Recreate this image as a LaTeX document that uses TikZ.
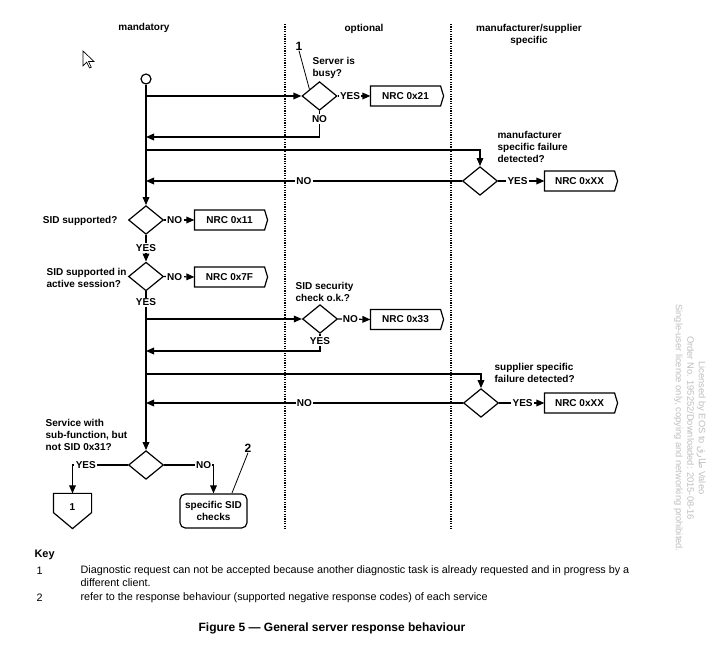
\documentclass[tikz,border=0pt]{standalone}
\usepackage{fontspec}
\setmainfont{Liberation Sans}
\newfontfamily\arabicfont[Script=Arabic]{DejaVu Sans}
\TeXXeTstate=1
\usetikzlibrary{shapes.geometric,arrows.meta}
\definecolor{wmgray}{RGB}{190,190,190}
\begin{document}
\begin{tikzpicture}[x=0.75pt,y=-0.75pt,line width=0.9pt,
  txt/.style={font=\bfseries\fontsize{7.5}{9}\selectfont, inner sep=0pt, align=left},
  yn/.style={font=\bfseries\fontsize{7.5}{9}\selectfont, fill=white, inner sep=1pt},
  dia/.style={shape=diamond, draw, minimum width=26.25pt, minimum height=21.5pt, inner sep=0pt},
  nrc/.style={font=\bfseries\fontsize{7.5}{9}\selectfont, minimum width=51.75pt, minimum height=14pt, inner sep=0pt},
  arr/.style={-{Triangle[length=6pt,width=5pt]}},
  sepline/.style={line width=0.8pt, dash pattern=on 0.9pt off 0.9pt},
  leader/.style={line width=0.6pt},
  keytxt/.style={font=\fontsize{8.1}{9.5}\selectfont, inner sep=0pt, anchor=west}
]
\useasboundingbox (0,0) rectangle (715,666);

% column separators and headings
\draw[sepline] (285,24) -- (285,530);
\draw[sepline] (451,24) -- (451,530);
\node[txt] (hmand) at (144,28) {mandatory};
\node[txt] (hopt) at (364,29) {optional};
\node[txt, align=center] (hman) at (529,35) {manufacturer/supplier\\specific};

% cursor
\draw[line width=0.5pt, fill=white] (83,51) -- (83,66) -- (86.7,62.2) -- (89.5,68) -- (91.3,67.2) -- (88.5,61.5) -- (94,61.5) -- cycle;

% start
\node[circle, draw, minimum size=7.5pt, inner sep=0pt] (start) at (146,79) {};

% diamonds
\node[dia] (busy) at (319.5,96) {};
\node[dia] (mfr) at (480,181) {};
\node[dia] (sid) at (146,220) {};
\node[dia] (sess) at (146,276.5) {};
\node[dia] (sec) at (320,319) {};
\node[dia] (sup) at (481,403) {};
\node[dia] (svc) at (146,465) {};

% NRC boxes
\node[nrc] (b21) at (405.5,96) {NRC 0x21};
\node[nrc] (bx1) at (579.5,181) {NRC 0xXX};
\node[nrc] (b11) at (229.5,220) {NRC 0x11};
\node[nrc] (b7f) at (229.5,277) {NRC 0x7F};
\node[nrc] (b33) at (405.5,319.5) {NRC 0x33};
\node[nrc] (bx2) at (579.5,403) {NRC 0xXX};
\foreach \b in {b21,bx1,b11,b7f,b33,bx2}{
  \draw (\b.north west) -- (\b.north east) -- ([xshift=2.25pt]\b.east) -- (\b.south east) -- (\b.south west) -- cycle;
}

% terminal shapes
\node[font=\bfseries\fontsize{7.5}{9}\selectfont, minimum width=27.75pt, minimum height=19.5pt, inner sep=0pt] (off1) at (72.5,507) {1};
\draw (off1.north west) -- (off1.north east) -- ([yshift=6pt]off1.south east) -- ([yshift=-6pt]off1.south) -- ([yshift=6pt]off1.south west) -- cycle;
\node[draw, rounded corners=4pt, align=center, font=\bfseries\fontsize{7.5}{9}\selectfont, minimum width=50.25pt, minimum height=25.5pt, inner sep=0pt] (chk) at (213.5,511) {specific SID\\checks};

% condition texts
\node[txt, anchor=west] (tbusy) at (312,67.5) {Server is\\busy?};
\node[txt, anchor=west] (tmfr) at (497,146.5) {manufacturer\\specific failure\\detected?};
\node[txt, anchor=east] (tsid) at (118,221) {SID supported?};
\node[txt, anchor=west] (tsess) at (46,277.5) {SID supported in\\active session?};
\node[txt, anchor=west] (tsec) at (295,291.5) {SID security\\check o.k.?};
\node[txt, anchor=west] (tsup) at (494,372.5) {supplier specific\\failure detected?};
\node[txt, anchor=west] (tsvc) at (45,435) {Service with\\sub-function, but\\not SID 0x31?};

% key callouts
\node[font=\bfseries\fontsize{9}{10}\selectfont, inner sep=0pt] (n1) at (299,46) {1};
\coordinate (c1) at (309.5,89.5);
\draw[leader] (n1.south) -- (c1);
\node[font=\bfseries\fontsize{9}{10}\selectfont, inner sep=0pt] (n2) at (248,448) {2};
\coordinate (c2) at (232,493);
\draw[leader] (n2.south) -- (c2);

% points on main line
\coordinate (m1) at (146,96);
\coordinate (m2) at (146,137);
\coordinate (m3) at (146,150);
\coordinate (m4) at (146,181);
\coordinate (m5) at (146,319);
\coordinate (m6) at (146,351);
\coordinate (m7) at (146,374);
\coordinate (m8) at (146,403);

% main flow
\draw[arr] (start) -- (sid.north);
\draw[arr] (m1) -- (busy.west);
\draw[arr] (busy.east) -- node[yn, pos=0.38]{YES} (b21.west);
\draw[arr] (busy.south) |- node[yn, pos=0.16]{NO} (m2);
\draw[arr] (m3) -| (mfr.north);
\draw[arr] (mfr.west) -- node[yn, pos=0.5]{NO} (m4);
\draw[arr] (mfr.east) -- node[yn, pos=0.42]{YES} (bx1.west);
\draw[arr] (sid.east) -- node[yn, pos=0.35]{NO} (b11.west);
\draw[arr] (sid.south) -- node[yn, pos=0.5]{YES} (sess.north);
\draw[arr] (sess.east) -- node[yn, pos=0.35]{NO} (b7f.west);
\draw[arr] (sess.south) -- node[yn, pos=0.07]{YES} (svc.north);
\draw[arr] (m5) -- (sec.west);
\draw[arr] (sec.east) -- node[yn, pos=0.38]{NO} (b33.west);
\draw[arr] (sec.south) |- node[yn, pos=0.21]{YES} (m6);
\draw[arr] (m7) -| (sup.north);
\draw[arr] (sup.west) -- node[yn, pos=0.5]{NO} (m8);
\draw[arr] (sup.east) -- node[yn, pos=0.52]{YES} (bx2.west);
\draw[arr] (svc.west) -| node[yn, pos=0.38]{YES} (off1.north);
\draw[arr] (svc.east) -| node[yn, pos=0.4]{NO} (chk.north);

% key
\node[font=\bfseries\fontsize{8.2}{9.5}\selectfont, inner sep=0pt, anchor=west] (key) at (34,555) {Key};
\node[keytxt] (k1) at (36,571) {1};
\node[keytxt] (k1t) at (80,571) {Diagnostic request can not be accepted because another diagnostic task is already requested and in progress by a};
\node[keytxt] (k1u) at (80,583) {different client.};
\node[keytxt] (k2) at (36,598) {2};
\node[keytxt] (k2t) at (80,598) {refer to the response behaviour (supported negative response codes) of each service};
\node[font=\bfseries\fontsize{9}{10}\selectfont, inner sep=0pt] (cap) at (332,628) {Figure 5 — General server response behaviour};

% watermark
\node[rotate=-90, text=wmgray, align=center, font=\fontsize{7}{8.6}\selectfont, inner sep=0pt] (wm) at (690,428)
 {Licensed by EOS to {\arabicfont\beginR طارق\endR} Valeo\\Order No. 195252/Downloaded: 2015-08-16\\Single-user licence only, copying and networking prohibited.};
\end{tikzpicture}
\end{document}
